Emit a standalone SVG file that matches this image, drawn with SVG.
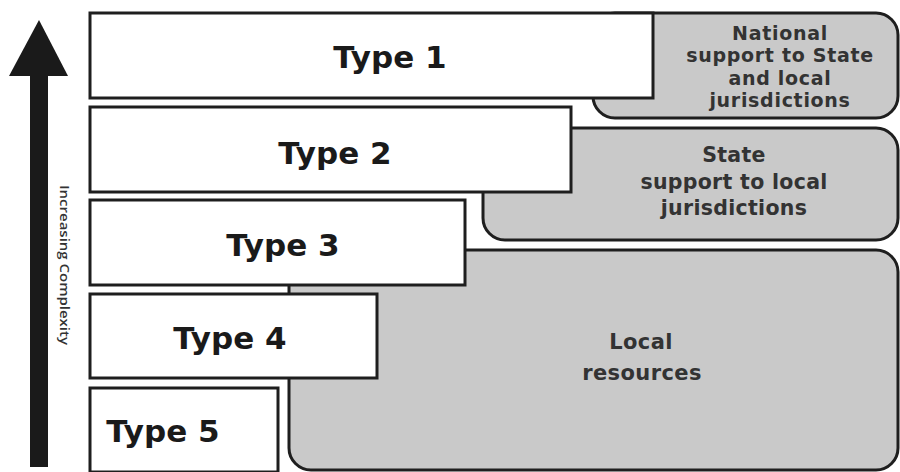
<svg xmlns="http://www.w3.org/2000/svg" width="900" height="472" viewBox="0 0 900 472">
<style>
.box{fill:#fff;stroke:#1e1e1e;stroke-width:3}
.gray{fill:#c9c9c9;stroke:#1e1e1e;stroke-width:3}
.t{font-family:"DejaVu Sans","Open Sans",sans-serif;font-weight:bold;fill:#1a1a1a;text-anchor:middle;font-size:31px}
.g{font-family:"DejaVu Sans","Open Sans",sans-serif;font-weight:bold;fill:#333;text-anchor:middle}
.n{font-size:19px;letter-spacing:0.7px}
.s{font-size:20.5px;letter-spacing:0.3px}
.l{font-size:21px;letter-spacing:0.4px}
</style>
<rect width="900" height="472" fill="#fff"/>
<g id="local">
<rect class="gray" x="289" y="250" width="609" height="220" rx="22"/>
<text class="g l" x="641" y="349">Local</text>
<text class="g l" x="642" y="380">resources</text>
</g>
<g id="state">
<rect class="gray" x="483" y="128" width="415" height="112" rx="22"/>
<text class="g s" x="734" y="162">State</text>
<text class="g s" x="734" y="189">support to local</text>
<text class="g s" x="734" y="215">jurisdictions</text>
</g>
<g id="national">
<rect class="gray" x="593" y="13" width="305" height="105" rx="22"/>
<text class="g n" x="780" y="39.5">National</text>
<text class="g n" x="780" y="62">support to State</text>
<text class="g n" x="780" y="84.5">and local</text>
<text class="g n" x="780" y="107">jurisdictions</text>
</g>
<g id="type1">
<rect class="box" x="90" y="13" width="563" height="85"/>
<text class="t" x="390" y="68">Type 1</text>
</g>
<g id="type2">
<rect class="box" x="90" y="107" width="481" height="85"/>
<text class="t" x="335" y="164">Type 2</text>
</g>
<g id="type3">
<rect class="box" x="90" y="200" width="375" height="85"/>
<text class="t" x="283" y="256">Type 3</text>
</g>
<g id="type4">
<rect class="box" x="90" y="294" width="287" height="84"/>
<text class="t" x="230" y="349">Type 4</text>
</g>
<g id="type5">
<rect class="box" x="90" y="388" width="188" height="84"/>
<text class="t" x="163" y="442">Type 5</text>
</g>
<g id="arrow">
<rect x="30" y="70" width="18" height="397" fill="#1a1a1a"/>
<polygon points="39,20 68,76 9,76" fill="#1a1a1a"/>
<text x="65" y="265" transform="rotate(90 65 265)" font-family="'Open Sans','DejaVu Sans',sans-serif" font-size="13" font-weight="600" fill="#333" text-anchor="middle" dominant-baseline="central" textLength="160" lengthAdjust="spacingAndGlyphs">Increasing Complexity</text>
</g>
</svg>
